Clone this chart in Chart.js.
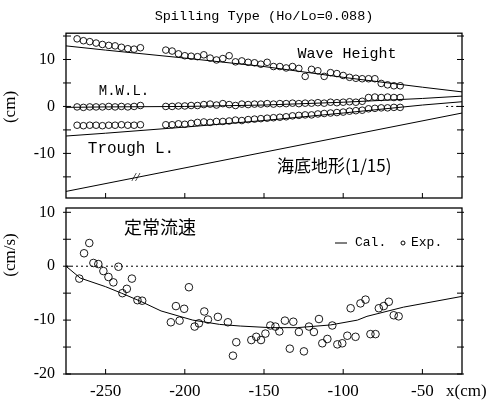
<!DOCTYPE html>
<html><head><meta charset="utf-8">
<script src="https://cdn.jsdelivr.net/npm/chart.js@4.4.0/dist/chart.umd.min.js"></script>
<style>
html,body{margin:0;padding:0;background:#fff;}
#wrap{position:relative;width:497px;height:408px;overflow:hidden;}
canvas{position:absolute;left:0;}
#c1{top:0;} #c2{top:203px;}
</style></head><body>
<div id="wrap"><canvas id="c1" width="497" height="203"></canvas><canvas id="c2" width="497" height="205"></canvas></div>
<script>
// ---------- data: upper panel (cm) ----------
const titleText = 'Spilling Type (Ho/Lo=0.088)';
const xTickValues = [-250, -200, -150, -100, -50];
const yTicksTop = [-15, -10, -5, 0, 5, 10, 15];
const yTicksBottom = [-20, -15, -10, -5, 0, 5, 10];
const expXA = [-268,-264,-260,-256,-252,-248,-244,-240,-236,-232,-228];
const expXB = [-212,-208,-204,-200,-196,-192,-188,-184,-180,-176,-172,-168,-164,-160,-156,-152,-148,-144,-140,-136,-132,-128,-124,-120,-116,-112,-108,-104,-100,-96,-92,-88,-84,-80,-76,-72,-68,-64];
const waveA = [14.4,14.0,13.8,13.5,13.2,13.0,12.9,12.6,12.3,12.2,12.5];
const waveB = [12.0,11.8,11.2,10.8,10.7,10.6,11.0,10.3,9.9,10.2,10.8,9.5,9.7,9.4,9.3,9.0,9.4,8.5,8.5,8.2,8.5,8.1,6.4,7.9,7.6,6.4,7.2,7.0,6.6,6.2,6.0,5.9,5.9,5.9,4.9,4.6,4.4,4.4];
const mwlA = [-0.1,-0.2,-0.1,-0.1,-0.1,0.0,-0.1,0.0,-0.1,0.0,0.2];
const mwlB = [0.0,0.0,0.1,0.1,0.2,0.2,0.4,0.5,0.3,0.6,0.4,0.2,0.5,0.4,0.5,0.5,0.6,0.5,0.6,0.6,0.7,0.6,0.7,0.7,0.8,0.7,0.9,0.8,0.9,1.0,0.9,1.1,1.9,2.0,1.9,2.0,1.9,1.9];
const troughA = [-4.0,-4.1,-4.0,-4.0,-4.1,-4.0,-4.0,-3.9,-4.0,-4.0,-3.9];
const troughB = [-3.9,-3.9,-3.7,-3.8,-3.6,-3.4,-3.3,-3.4,-3.2,-3.2,-3.1,-2.9,-3.0,-2.8,-2.7,-2.6,-2.5,-2.4,-2.3,-2.2,-2.0,-1.9,-1.8,-1.8,-1.6,-1.5,-1.4,-1.3,-1.2,-1.0,-0.9,-0.8,-0.5,-0.4,-0.3,-0.3,-0.2,-0.2];
const calcX = [-275,-250,-200,-150,-100,-50,-25];
const waveCalc = [12.9,12.0,10.3,8.5,6.2,4.1,3.1];
const mwlCalc = [-0.2,-0.1,0.0,0.3,0.9,1.7,2.2];
const troughCalc = [-6.3,-5.7,-4.4,-3.0,-1.4,0.3,1.0];
const bedX = [-275,-25];
const bedY = [-18.1,-1.4];
const swlX = [-35,-25];
const swlY = [0,0];

// ---------- data: lower panel (cm/s) ----------
const velExpX = [-266.6,-263.6,-260.3,-257.7,-254.6,-251.4,-248.2,-245.1,-241.9,-239.4,-236.6,-233.4,-229.9,-226.9,-208.8,-205.6,-203.3,-200.4,-197.4,-193.8,-191.1,-187.7,-185.4,-179.1,-172.8,-169.6,-167.5,-158,-154.9,-151.9,-149.1,-146,-142.8,-140.3,-136.8,-133.7,-131.5,-128,-124.8,-121.6,-118.5,-115.3,-113.2,-110,-106.9,-103.7,-100.6,-97.4,-95.3,-92.2,-89.1,-85.9,-82.8,-79.6,-77.5,-74.4,-71.2,-68.1,-65];
const velExpY = [-2.3,2.4,4.3,0.6,0.4,-0.9,-2.0,-3.0,-0.1,-5.0,-4.2,-2.3,-6.3,-6.4,-10.4,-7.4,-10.1,-7.9,-3.9,-11.2,-10.6,-8.4,-9.9,-9.4,-10.4,-16.6,-14.1,-13.7,-13.1,-13.7,-12.5,-11.0,-11.2,-12.1,-10.1,-15.3,-10.3,-12.2,-15.8,-11.2,-12.2,-9.8,-14.3,-13.5,-11.0,-14.5,-14.3,-12.9,-7.8,-13.1,-6.9,-6.2,-12.6,-12.6,-7.8,-7.4,-6.6,-9.1,-9.3];
const velCalcX = [-275,-266,-250,-240,-228,-215,-195,-178,-165,-146,-129,-108,-91,-85,-62,-25];
const velCalcY = [0,-2.2,-3.8,-5.0,-6.5,-8.3,-10.0,-10.8,-11.1,-11.4,-11.4,-10.9,-10.0,-9.3,-7.6,-5.6];
const zeroX = [-275,-25];
const zeroY = [0,0];

const pts = (xs, ys) => xs.map((x, i) => ({x, y: ys[i]}));

// ---------- plugins ----------
const framePlugin = {
  id: 'frame',
  afterDatasetsDraw(chart) {
    const {ctx, chartArea: a, scales} = chart;
    ctx.save();
    ctx.strokeStyle = '#000';
    ctx.lineWidth = 1.3;
    ctx.strokeRect(a.left, a.top, a.right - a.left, a.bottom - a.top);
    ctx.lineWidth = 1;
    const ln = (x1, y1, x2, y2) => { ctx.beginPath(); ctx.moveTo(x1, y1); ctx.lineTo(x2, y2); ctx.stroke(); };
    scales.x.ticks.forEach(t => { const p = scales.x.getPixelForValue(t.value); ln(p, a.bottom, p, a.bottom - 5); });
    scales.y.ticks.forEach(t => {
      const p = scales.y.getPixelForValue(t.value);
      ln(a.left - 3, p, a.left + 5, p);
      ln(a.right - 5, p, a.right + 2, p);
    });
    ctx.restore();
  }
};

const textPlugin = {
  id: 'texts',
  afterDraw(chart, args, opts) {
    const {ctx, scales} = chart;
    ctx.save();
    ctx.fillStyle = '#000';
    (opts.items || []).forEach(it => {
      let x = it.x, y = it.y;
      if (it.dx !== undefined) { x = scales.x.getPixelForValue(it.dx); y = scales.y.getPixelForValue(it.dy); }
      ctx.save();
      ctx.font = it.font;
      ctx.textAlign = it.align || 'left';
      ctx.textBaseline = 'middle';
      ctx.translate(x, y);
      if (it.rot) ctx.rotate(it.rot);
      ctx.fillText(it.text, 0, 0);
      ctx.restore();
    });
    (opts.shapes || []).forEach(s => {
      ctx.strokeStyle = '#000';
      ctx.lineWidth = 1;
      ctx.beginPath();
      if (s.type === 'line') { ctx.moveTo(s.x1, s.y); ctx.lineTo(s.x2, s.y); }
      else { ctx.arc(s.x, s.y, s.r, 0, Math.PI * 2); }
      ctx.stroke();
    });
    ctx.restore();
  }
};

const lineDs = (data, dash) => ({
  data, showLine: true, pointRadius: 0, borderColor: '#000', borderWidth: 1,
  borderDash: dash || [], fill: false, tension: 0
});
const expDs = (data, r) => ({
  data, showLine: false, pointRadius: r, pointStyle: 'circle',
  pointBorderColor: '#000', pointBackgroundColor: 'rgba(0,0,0,0)', pointBorderWidth: 0.9
});

const zeroPad = s => { s.paddingTop = 0; s.paddingBottom = 0; s.paddingLeft = 0; s.paddingRight = 0; };

const xScale = (showLabels) => ({
  type: 'linear', min: -275, max: -25,
  grid: {display: false, drawTicks: false}, border: {display: false},
  afterBuildTicks: s => { s.ticks = xTickValues.map(v => ({value: v})); },
  ticks: {
    display: showLabels, padding: 7, autoSkip: false, maxRotation: 0,
    color: '#000', font: {family: 'Liberation Serif', size: 17},
    callback: v => String(v)
  },
  afterFit: s => { s.height = showLabels ? 34 : 0; zeroPad(s); }
});
const yScale = (min, max, tickVals) => ({
  type: 'linear', min, max,
  grid: {display: false, drawTicks: false}, border: {display: false},
  afterBuildTicks: s => { s.ticks = tickVals.map(v => ({value: v})); },
  ticks: {
    padding: 11, color: '#000', autoSkip: false,
    font: {family: 'Liberation Serif', size: 16},
    callback: v => (v % 10 === 0) ? String(v) : ''
  },
  afterFit: s => { s.width = 66; zeroPad(s); }
});

// ---------- upper chart ----------
new Chart(document.getElementById('c1'), {
  type: 'scatter',
  data: {datasets: [
    lineDs(pts(calcX, waveCalc)),
    lineDs(pts(calcX, mwlCalc)),
    lineDs(pts(calcX, troughCalc)),
    lineDs(pts(bedX, bedY)),
    lineDs(pts(swlX, swlY), [2, 3]),
    expDs(pts(expXA, waveA), 3.3), expDs(pts(expXB, waveB), 3.3),
    expDs(pts(expXA, mwlA), 3.3), expDs(pts(expXB, mwlB), 3.3),
    expDs(pts(expXA, troughA), 3.3), expDs(pts(expXB, troughB), 3.3)
  ]},
  options: {
    responsive: false, animation: false, events: [],
    layout: {padding: {left: 0, right: 35, top: 0, bottom: 5}},
    scales: {x: xScale(false), y: yScale(-19.5, 15.6, yTicksTop)},
    plugins: {
      legend: {display: false}, tooltip: {enabled: false},
      title: {display: true, text: titleText, fullSize: false, color: '#000',
        font: {family: 'Liberation Mono', size: 13.5, weight: 'normal'}, padding: {top: 8, bottom: 9}},
      texts: {items: [
        {text: 'Wave Height', x: 347, y: 54, align: 'center', font: '15px "Liberation Mono"'},
        {text: 'M.W.L.', x: 124, y: 91, align: 'center', font: '14px "Liberation Mono"'},
        {text: 'Trough L.', x: 131, y: 149, align: 'center', font: '16px "Liberation Mono"'},
        {text: '海底地形(1/15)', x: 277, y: 166, align: 'left', font: '17px "Noto Sans CJK JP"'},
        {text: '//', dx: -231, dy: -15.2, align: 'center', font: 'italic 13px "Liberation Serif"'},
        {text: '(cm)', x: 11, y: 107, align: 'center', rot: -Math.PI / 2, font: '17px "Liberation Serif"'}
      ]}
    }
  },
  plugins: [framePlugin, textPlugin]
});

// ---------- lower chart ----------
new Chart(document.getElementById('c2'), {
  type: 'scatter',
  data: {datasets: [
    lineDs(pts(zeroX, zeroY), [2, 3]),
    lineDs(pts(velCalcX, velCalcY)),
    expDs(pts(velExpX, velExpY), 3.8)
  ]},
  options: {
    responsive: false, animation: false, events: [],
    layout: {padding: {left: 0, right: 35, top: 5, bottom: 0}},
    scales: {x: xScale(true), y: yScale(-20, 10.8, yTicksBottom)},
    plugins: {
      legend: {display: false}, tooltip: {enabled: false},
      texts: {
        items: [
          {text: '定常流速', x: 124, y: 24, align: 'left', font: '18px "Noto Sans CJK JP"'},
          {text: 'Cal.', x: 355, y: 40, align: 'left', font: '13px "Liberation Mono"'},
          {text: 'Exp.', x: 411, y: 40, align: 'left', font: '13px "Liberation Mono"'},
          {text: 'x(cm)', x: 446, y: 189, align: 'left', font: '17px "Liberation Serif"'},
          {text: '(cm/s)', x: 11, y: 52, align: 'center', rot: -Math.PI / 2, font: '17px "Liberation Serif"'}
        ],
        shapes: [
          {type: 'line', x1: 335, x2: 347, y: 40},
          {type: 'circle', x: 403, y: 40, r: 2}
        ]
      }
    }
  },
  plugins: [framePlugin, textPlugin]
});
</script>
</body></html>
